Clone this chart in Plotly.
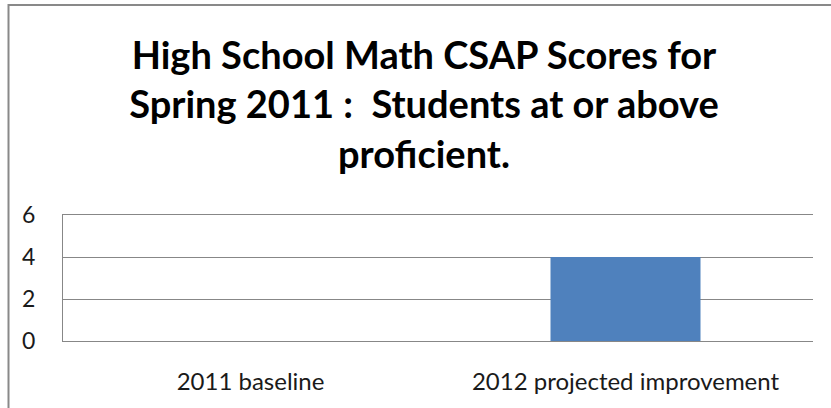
import plotly.graph_objects as go

categories = ["2011 baseline", "2012 projected improvement"]
values = [0, 4]
y_ticks = [0, 2, 4, 6]

fig = go.Figure()
fig.add_trace(go.Bar(
    x=categories, y=values,
    marker=dict(color="#4F81BD", line=dict(width=0)),
    width=0.4,
))

fig.update_layout(
    width=831, height=408,
    margin=dict(l=63, r=18, t=215, b=67),
    paper_bgcolor="white", plot_bgcolor="white",
    showlegend=False,
    font=dict(family="Lato", color="#1a1a1a"),
    title=dict(
        text="High School Math CSAP Scores for<br>Spring 2011 :  Students at or above<br>proficient.",
        x=424/831, xanchor="center", xref="container",
        y=1 - 69/408, yanchor="top", yref="container",
        font=dict(family="Lato", size=38, color="black", weight="bold"),
    ),
    xaxis=dict(
        showgrid=False, showline=True, mirror=True,
        linecolor="#878787", linewidth=1, zeroline=False,
        tickfont=dict(size=24), ticks="", ticklabelstandoff=19,
    ),
    yaxis=dict(
        range=[0, 6], tickvals=y_ticks, showgrid=True,
        gridcolor="#878787", gridwidth=1,
        showline=True, linecolor="#878787", linewidth=1,
        zeroline=False, tickfont=dict(size=23), ticks="",
        ticklabelstandoff=22,
    ),
    shapes=[dict(
        type="rect", xref="paper", yref="paper",
        x0=(8.5 - 63) / 750, x1=(840 - 63) / 750,
        y0=-1, y1=1 + (215 - 5) / 126,
        line=dict(color="#898989", width=2), fillcolor="rgba(0,0,0,0)",
        layer="below",
    )],
)

fig.write_html("out.html")
